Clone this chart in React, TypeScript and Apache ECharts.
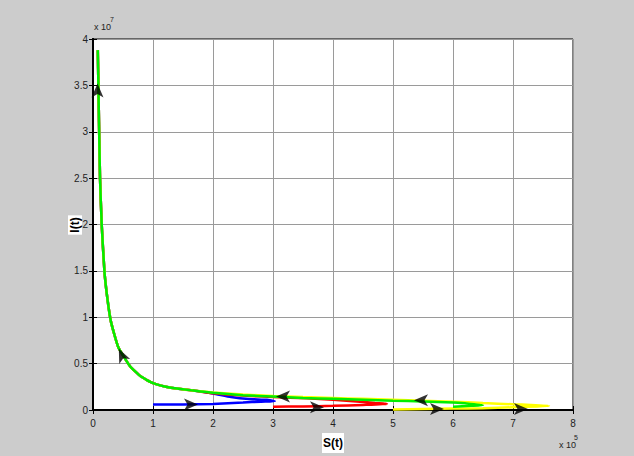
import React, { useEffect, useRef } from "react";
import * as echarts from "echarts";

// x axis: S(t) in units of 1e5, y axis: I(t) in units of 1e7
const xTicks = [0, 1, 2, 3, 4, 5, 6, 7, 8];
const yTicks = [0, 0.5, 1, 1.5, 2, 2.5, 3, 3.5, 4];

// shared upper branch (from S≈1.67 up to the top)
const commonS = [1.67, 1.3, 1.0, 0.8, 0.62, 0.42, 0.3, 0.24, 0.19, 0.145, 0.117, 0.1, 0.09, 0.08];
const commonI = [0.21, 0.24, 0.29, 0.36, 0.47, 0.68, 0.95, 1.2, 1.5, 2.0, 2.5, 3.1, 3.5, 3.88];

const blueS = [1.0, 1.5, 2.0, 2.5, 2.8, 3.03, 2.9, 2.6, 2.3, 2.0];
const blueI = [0.06, 0.06, 0.065, 0.08, 0.09, 0.095, 0.11, 0.118, 0.14, 0.178];

const redS = [3.0, 3.5, 4.0, 4.5, 4.9, 4.7, 4.45, 4.0, 3.56, 3.0, 2.5, 2.0];
const redI = [0.035, 0.038, 0.045, 0.055, 0.065, 0.075, 0.09, 0.11, 0.126, 0.14, 0.155, 0.18];

const yellowS = [5.0, 5.5, 6.0, 6.5, 7.0, 7.4, 7.6, 7.3, 7.0, 6.5, 6.0, 5.5, 5.0, 4.5, 4.0, 3.5, 3.0, 2.5, 2.0];
const yellowI = [0.005, 0.01, 0.015, 0.02, 0.03, 0.038, 0.045, 0.055, 0.062, 0.075, 0.09, 0.1, 0.11, 0.12, 0.13, 0.14, 0.152, 0.167, 0.19];

const greenS = [6.0, 6.3, 6.5, 6.2, 6.0, 5.5, 5.0, 4.5, 4.0, 3.5, 3.0, 2.5, 2.0];
const greenI = [0.035, 0.045, 0.052, 0.072, 0.082, 0.092, 0.1, 0.11, 0.12, 0.13, 0.145, 0.16, 0.185];

// direction arrows (position + rotation in degrees, 0 = up)
const arrowS = [0.075, 0.43, 1.75, 3.05, 3.85, 5.35, 5.85, 7.25];
const arrowI = [3.52, 0.66, 0.058, 0.145, 0.03, 0.105, 0.01, 0.01];
const arrowAngle = [0, 25, -90, 90, -90, 90, -90, -90];

function build(s: number[], i: number[], withCommon = true) {
  const pts = s.map((v, k) => [v, i[k]]);
  if (withCommon) commonS.forEach((v, k) => pts.push([v, commonI[k]]));
  return pts;
}

export default function App() {
  const ref = useRef<HTMLDivElement>(null);
  useEffect(() => {
    if (!ref.current) return;
    const chart = echarts.init(ref.current, undefined, { renderer: "svg" });
    const font = "'Liberation Sans Narrow', 'Liberation Sans', Arial, sans-serif";
    const lineSeries = (name: string, color: string, data: number[][]) => ({
      type: "line",
      name,
      data,
      showSymbol: false,
      symbol: "none",
      smooth: 0.15,
      lineStyle: { color, width: 2.5 },
      xAxisIndex: 0,
      yAxisIndex: 0,
      silent: true,
    });
    chart.setOption({
      animation: false,
      backgroundColor: "#cccccc",
      grid: {
        left: 93,
        right: 61,
        top: 39,
        bottom: 46,
        show: true,
        backgroundColor: "#ffffff",
        borderColor: "#000",
        borderWidth: 1,
      },
      xAxis: [
        {
          type: "value",
          min: 0,
          max: 8,
          interval: 1,
          position: "bottom",
          axisLine: { show: true, lineStyle: { color: "#000", width: 2 } },
          axisTick: { show: true, inside: true, length: 4, lineStyle: { color: "#000" } },
          axisLabel: { color: "#222", fontSize: 10, fontFamily: font, margin: 8 },
          splitLine: { show: true, lineStyle: { color: "#9a9a9a", width: 1 } },
        },
        {
          type: "value",
          min: 0,
          max: 8,
          interval: 1,
          position: "top",
          axisLine: { show: true, lineStyle: { color: "#000", width: 2 } },
          axisTick: { show: true, inside: true, length: 4, lineStyle: { color: "#000" } },
          axisLabel: { show: false },
          splitLine: { show: false },
        },
      ],
      yAxis: [
        {
          type: "value",
          min: 0,
          max: 4,
          interval: 0.5,
          position: "left",
          axisLine: { show: true, lineStyle: { color: "#000", width: 2 } },
          axisTick: { show: true, inside: true, length: 4, lineStyle: { color: "#000" } },
          axisLabel: { color: "#222", fontSize: 10, fontFamily: font, margin: 5 },
          splitLine: { show: true, lineStyle: { color: "#9a9a9a", width: 1 } },
        },
        {
          type: "value",
          min: 0,
          max: 4,
          interval: 0.5,
          position: "right",
          axisLine: { show: true, lineStyle: { color: "#000", width: 2 } },
          axisTick: { show: true, inside: true, length: 4, lineStyle: { color: "#000" } },
          axisLabel: { show: false },
          splitLine: { show: false },
        },
      ],
      series: [
        lineSeries("blue", "#0000ff", build(blueS, blueI)),
        lineSeries("red", "#ff0000", build(redS, redI)),
        lineSeries("yellow", "#ffff00", build(yellowS, yellowI)),
        lineSeries("green", "#00ee00", build(greenS, greenI)),
        {
          type: "scatter",
          symbol: "arrow",
          symbolSize: [9, 14],
          itemStyle: { color: "#000" },
          silent: true,
          z: 5,
          data: arrowS.map((v, k) => ({
            value: [v, arrowI[k]],
            symbolRotate: arrowAngle[k],
          })),
        },
      ],
      graphic: [
        {
          type: "text",
          left: 94,
          top: 22,
          style: { text: "x 10", fontSize: 9, fontFamily: font, fill: "#222" },
        },
        {
          type: "text",
          left: 110,
          top: 16,
          style: { text: "7", fontSize: 7, fontFamily: font, fill: "#222" },
        },
        {
          type: "text",
          left: 559,
          top: 440,
          style: { text: "x 10", fontSize: 9, fontFamily: font, fill: "#222" },
        },
        {
          type: "text",
          left: 574,
          top: 434,
          style: { text: "5", fontSize: 7, fontFamily: font, fill: "#222" },
        },
        {
          type: "text",
          x: 333,
          y: 443,
          style: {
            text: "S(t)",
            fontSize: 12,
            fontWeight: "bold",
            fontFamily: font,
            fill: "#000",
            align: "center",
            verticalAlign: "middle",
            backgroundColor: "#fff",
            padding: [4, 1, 4, 1],
          },
        },
        {
          type: "text",
          x: 75,
          y: 225,
          rotation: Math.PI / 2,
          style: {
            text: "I(t)",
            fontSize: 12,
            fontWeight: "bold",
            fontFamily: font,
            fill: "#000",
            align: "center",
            verticalAlign: "middle",
            backgroundColor: "#fff",
            padding: [1, 2, 1, 2],
          },
        },
      ],
    });
    return () => chart.dispose();
  }, []);
  return (
    <div
      ref={ref}
      style={{ position: "fixed", left: 0, top: 0, width: 634, height: 456 }}
    />
  );
}
